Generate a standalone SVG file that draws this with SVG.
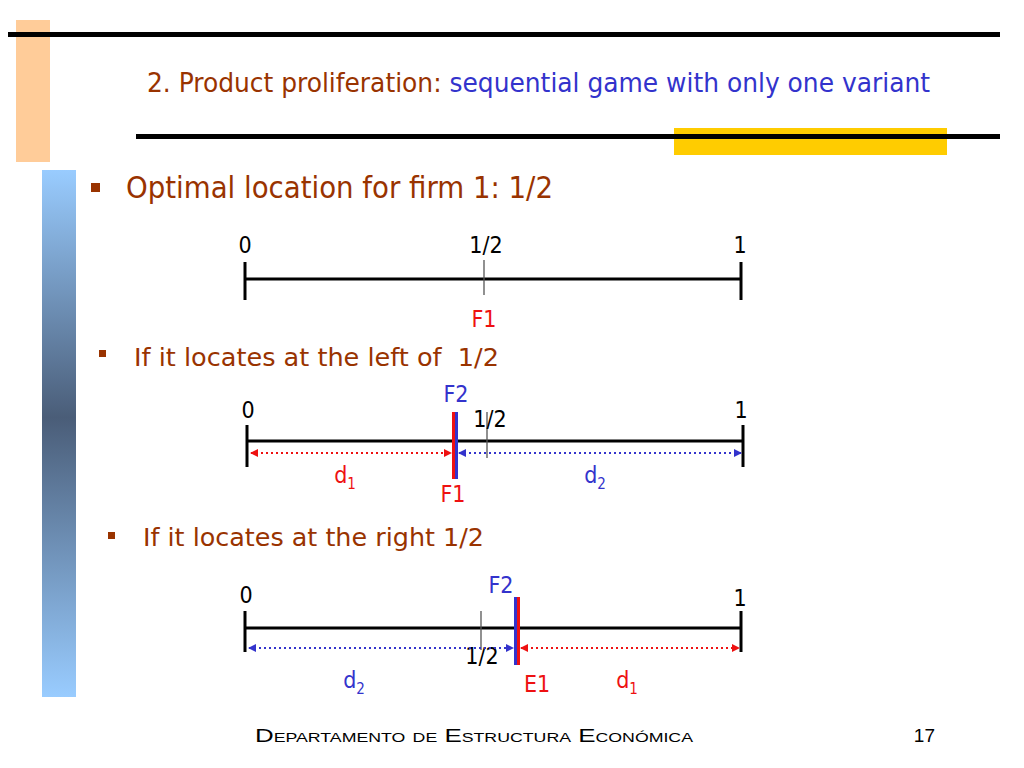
<svg xmlns="http://www.w3.org/2000/svg" width="1024" height="768" viewBox="0 0 1024 768">
<style>
.t{font-family:"DejaVu Sans Condensed","DejaVu Sans",sans-serif}
.br{fill:#993300}
.bl{fill:#3333cc}
.rd{fill:#ee1111}
.bk{fill:#000}
.ax{stroke:#000;stroke-width:3;fill:none}
.tk{stroke:#000;stroke-width:3}
.half{stroke:#555;stroke-width:1.3}
.rdot{stroke:#ee1111;stroke-width:2;stroke-dasharray:2 3;fill:none}
.bdot{stroke:#3333cc;stroke-width:2;stroke-dasharray:2 3;fill:none}
.lbl{font-size:23px;text-anchor:middle}
</style>
<defs>
<linearGradient id="gb" x1="0" y1="0" x2="0" y2="1">
<stop offset="0" stop-color="#99ccff"/>
<stop offset="0.47" stop-color="#4a5d78"/>
<stop offset="1" stop-color="#99ccff"/>
</linearGradient>
<marker id="ar" viewBox="0 0 8 8" refX="7" refY="4" markerWidth="4" markerHeight="4" orient="auto-start-reverse" markerUnits="strokeWidth"><path d="M0,0 L8,4 L0,8 z" fill="#ee1111"/></marker>
<marker id="ab" viewBox="0 0 8 8" refX="7" refY="4" markerWidth="4" markerHeight="4" orient="auto-start-reverse" markerUnits="strokeWidth"><path d="M0,0 L8,4 L0,8 z" fill="#3333cc"/></marker>
</defs>
<rect width="1024" height="768" fill="#fff"/>
<g id="decor">
<rect x="16" y="20" width="34" height="142" fill="#ffcc99"/>
<rect x="8" y="32" width="992" height="5" fill="#000"/>
<rect x="674" y="128" width="273" height="27" fill="#ffcc00"/>
<rect x="136" y="134" width="864" height="5" fill="#000"/>
<rect x="42" y="170" width="34" height="527" fill="url(#gb)"/>
</g>
<g id="title">
<text class="t" x="147" y="92" font-size="26" textLength="783" lengthAdjust="spacingAndGlyphs"><tspan class="br">2. Product proliferation: </tspan><tspan class="bl">sequential game with only one variant</tspan></text>
</g>
<g id="bullets">
<rect x="91" y="183" width="9" height="9" fill="#993300"/>
<text class="t br" x="126" y="198" font-size="30" textLength="427" lengthAdjust="spacingAndGlyphs">Optimal location for firm 1: 1/2</text>
<rect x="99" y="350" width="7" height="7" fill="#993300"/>
<text class="t br" x="134" y="366" font-size="25" textLength="365" lengthAdjust="spacingAndGlyphs" xml:space="preserve">If it locates at the left of  1/2</text>
<rect x="108" y="532" width="7" height="7" fill="#993300"/>
<text class="t br" x="143" y="546" font-size="25" textLength="341" lengthAdjust="spacingAndGlyphs">If it locates at the right 1/2</text>
</g>
<g id="line1">
<line class="ax" x1="245" y1="279" x2="741" y2="279"/>
<line class="tk" x1="245" y1="262" x2="245" y2="300"/>
<line class="tk" x1="741" y1="262" x2="741" y2="300"/>
<line class="half" x1="484" y1="260" x2="484" y2="295"/>
<text class="t bk lbl" x="245" y="253">0</text>
<text class="t bk lbl" x="486" y="253">1/2</text>
<text class="t bk lbl" x="740" y="253">1</text>
<text class="t rd lbl" x="484" y="327" font-size="22">F1</text>
</g>
<g id="line2">
<line class="ax" x1="247" y1="441" x2="743" y2="441"/>
<line class="tk" x1="247" y1="425" x2="247" y2="467"/>
<line class="tk" x1="743" y1="425" x2="743" y2="467"/>
<line class="half" x1="487" y1="412" x2="487" y2="458"/>
<rect x="452" y="412" width="3" height="67" fill="#ee1111"/>
<rect x="455" y="412" width="3" height="67" fill="#3333cc"/>
<text class="t bk lbl" x="248" y="418">0</text>
<text class="t bk lbl" x="741" y="418">1</text>
<text class="t bk lbl" x="490" y="427">1/2</text>
<text class="t bl lbl" x="456" y="402" font-size="22">F2</text>
<text class="t rd lbl" x="453" y="502" font-size="22">F1</text>
<text class="t rd lbl" x="345" y="483">d<tspan font-size="15" dy="6">1</tspan></text>
<text class="t bl lbl" x="595" y="483">d<tspan font-size="15" dy="6">2</tspan></text>
</g>
<g id="line3">
<line class="ax" x1="245" y1="628" x2="741" y2="628"/>
<line class="tk" x1="245" y1="611" x2="245" y2="652"/>
<line class="tk" x1="741" y1="611" x2="741" y2="652"/>
<line class="half" x1="481" y1="611" x2="481" y2="650"/>
<rect x="514" y="597" width="3" height="68" fill="#3333cc"/>
<rect x="517" y="597" width="3" height="68" fill="#ee1111"/>
<text class="t bk lbl" x="246" y="603">0</text>
<text class="t bk lbl" x="740" y="606">1</text>
<text class="t bk lbl" x="482" y="664">1/2</text>
<text class="t bl lbl" x="501" y="593" font-size="22">F2</text>
<text class="t rd lbl" x="537" y="692" font-size="22">E1</text>
<text class="t bl lbl" x="354" y="688">d<tspan font-size="15" dy="6">2</tspan></text>
<text class="t rd lbl" x="627" y="688">d<tspan font-size="15" dy="6">1</tspan></text>
</g>
<g id="connectors">
<line class="rdot" x1="251" y1="453" x2="451" y2="453" marker-start="url(#ar)" marker-end="url(#ar)"/>
<line class="bdot" x1="459" y1="453" x2="741" y2="453" marker-start="url(#ab)" marker-end="url(#ab)"/>
<line class="bdot" x1="249" y1="648" x2="513" y2="648" marker-start="url(#ab)" marker-end="url(#ab)"/>
<line class="rdot" x1="521" y1="648" x2="739" y2="648" marker-start="url(#ar)" marker-end="url(#ar)"/>
</g>
<g id="footer">
<text x="255" y="742" font-family="Liberation Sans, sans-serif" font-size="19" font-variant="small-caps" textLength="438" lengthAdjust="spacingAndGlyphs" fill="#000">Departamento de Estructura Económica</text>
<text x="935" y="742" font-family="Liberation Sans, sans-serif" font-size="19" text-anchor="end" fill="#000">17</text>
</g>
</svg>
